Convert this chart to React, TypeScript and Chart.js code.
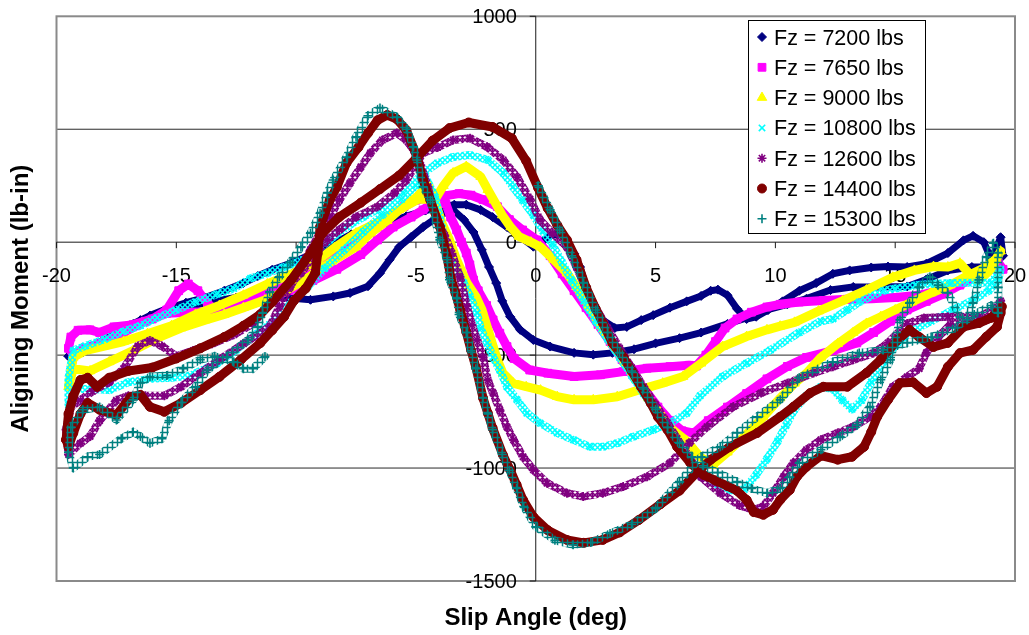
import React, { useEffect, useRef } from 'react';
import { Chart, registerables } from 'chart.js';
import { drawPoint } from 'chart.js/helpers';

Chart.register(...registerables);

type P = [number, number];

const xTicks = [-20, -15, -10, -5, 0, 5, 10, 15, 20];
const yTicks = [1000, 500, 0, -500, -1000, -1500];
const xTitle = 'Slip Angle (deg)';
const yTitle = 'Aligning Moment (lb-in)';
const seriesNames = ['Fz = 7200 lbs', 'Fz = 7650 lbs', 'Fz = 9000 lbs', 'Fz = 10800 lbs', 'Fz = 12600 lbs', 'Fz = 14400 lbs', 'Fz = 15300 lbs'];

const fz7200: P[] = [
  [-19.5, -505], [-18.9, -488], [-18.2, -460], [-17.5, -418], [-16.8, -362], [-16.1, -325], [-15.4, -295], [-14.6, -268], [-13.8, -245], [-13.0, -215], [-12.2, -181], [-11.6, -150], [-11.0, -122], [-10.2, -92], [-9.4, -55], [-8.5, -10], [-7.7, 35], [-7.0, 58], [-6.2, 85], [-5.4, 115], [-4.6, 140], [-4.0, 155], [-3.4, 166], [-2.9, 166], [-2.3, 143], [-1.8, 111], [-1.2, 67], [-0.6, 20], [-0.1, -20], [0.3, 5], [0.6, 28], [1.0, 38], [1.3, 10], [1.6, -50], [1.85, -110], [2.1, -198], [2.4, -285], [2.8, -345], [3.3, -380], [3.8, -375], [4.4, -345], [4.9, -323], [5.6, -290], [6.3, -262], [6.9, -238], [7.3, -215], [7.6, -210], [8.0, -235], [8.4, -295], [8.8, -340], [9.2, -330], [9.7, -300], [10.3, -262], [11.0, -215], [11.7, -181], [12.4, -140], [13.1, -125], [14.0, -112], [14.7, -108], [15.5, -110], [16.3, -95], [17.2, -48], [17.85, 8], [18.25, 28], [18.7, 0], [19.0, -75], [19.25, -20], [19.4, 22], [19.5, -60],
  [19.0, -110], [18.2, -110], [17.2, -125], [16.3, -165], [15.5, -196], [14.4, -198], [13.25, -198], [12.3, -212], [11.3, -250], [10.5, -275], [9.65, -300], [8.8, -335], [8.0, -362], [6.9, -400], [6.0, -425], [5.0, -448], [4.1, -474], [3.2, -490], [2.4, -498], [1.6, -490], [0.6, -462], [-0.1, -433], [-0.65, -388], [-1.07, -330], [-1.4, -260], [-1.65, -181], [-1.95, -110], [-2.25, -34], [-2.6, 45], [-3.0, 100], [-3.5, 148],
  [-4.1, 111], [-4.7, 67], [-5.2, 23], [-5.7, -21], [-6.1, -78], [-6.5, -137], [-7.0, -195], [-7.75, -225], [-8.45, -240], [-9.4, -255], [-10.5, -245], [-11.5, -235], [-12.5, -245], [-13.5, -262], [-14.5, -285], [-15.5, -310], [-16.5, -345], [-17.5, -400], [-18.5, -460], [-19.5, -505],
];

const fz7650: P[] = [
  [-3.8, 205], [-3.2, 215], [-2.7, 208], [-2.2, 188], [-1.6, 157], [-1.1, 100], [-0.55, 54], [0.05, 10],
  [0.6, -60], [1.1, -140], [1.6, -215], [2.1, -290], [2.6, -365], [3.1, -440], [3.6, -520], [4.1, -590], [4.6, -660], [5.1, -730], [5.6, -790], [6.1, -835], [6.6, -845], [7.2, -790], [8.0, -730], [8.8, -670], [9.65, -605], [10.5, -550], [11.3, -510], [12.4, -480], [13.4, -446], [14.1, -400], [14.8, -350], [15.5, -300], [16.3, -262], [17.0, -230], [17.7, -190], [18.3, -150], [18.8, -110], [19.3, -90], [19.5, -120],
  [18.8, -120], [18.2, -150], [17.5, -190], [16.8, -215], [16.0, -235], [15.0, -245], [14.0, -250], [13.0, -253], [12.0, -258], [11.0, -265], [10.2, -275], [9.65, -287], [9.0, -310], [8.4, -340], [7.9, -380], [7.5, -440], [7.1, -500], [6.7, -548],
  [6.4, -545], [5.6, -551], [4.65, -558], [3.65, -573], [2.7, -587], [1.6, -595], [0.5, -580], [-0.25, -566], [-0.9, -515], [-1.2, -462], [-1.5, -403], [-1.78, -344], [-2.05, -280], [-2.4, -215], [-2.6, -167], [-2.75, -100], [-2.9, -48], [-3.1, 0], [-3.3, 54], [-3.55, 111], [-3.75, 170],
  [-4.3, 175], [-4.7, 143], [-5.2, 111], [-5.95, 67], [-6.6, 10], [-7.3, -55], [-8.3, -120], [-9.3, -170], [-10.3, -215], [-11.3, -255], [-12.3, -290], [-13.2, -318], [-13.7, -270], [-14.1, -215], [-14.5, -185], [-14.9, -215], [-15.4, -300], [-16.0, -340], [-16.8, -365], [-17.6, -375], [-18.2, -400], [-18.6, -388], [-19.1, -390], [-19.4, -420], [-19.5, -470],
  [-19.3, -495], [-18.8, -470], [-18.0, -440], [-17.2, -400], [-16.3, -350], [-15.4, -315], [-14.5, -310], [-13.5, -308], [-12.8, -290], [-12.0, -250], [-11.0, -200], [-10.0, -150], [-9.0, -95], [-8.0, -35], [-7.2, 15], [-6.6, 67], [-6.1, 111], [-5.5, 157], [-5.0, 186], [-4.4, 200], [-3.8, 205],
];

const fz9000: P[] = [
  [-4.2, 190], [-3.85, 250], [-3.45, 306], [-2.9, 335], [-2.3, 290], [-2.0, 232], [-1.75, 186], [-1.4, 120], [-1.05, 67], [-0.7, 25], [-0.2, 0], [0.2, -21],
  [0.75, -78], [1.3, -137], [1.7, -198], [2.2, -280], [2.7, -370], [3.2, -450], [3.7, -530], [4.2, -610], [4.7, -690], [5.2, -760], [5.7, -830], [6.3, -880], [6.85, -950], [7.4, -985], [8.0, -930], [8.8, -850], [9.5, -773], [10.2, -690], [10.8, -625], [11.3, -580], [11.9, -510], [12.6, -450], [13.25, -400], [13.8, -360], [14.4, -330], [15.0, -300], [15.7, -265], [16.5, -225], [17.3, -190], [18.0, -150], [18.7, -115], [19.2, -75], [19.4, -40],
  [19.0, -120], [18.5, -170], [18.1, -140], [17.7, -93], [17.2, -110], [16.6, -108], [15.8, -125], [14.9, -155], [13.8, -212], [12.8, -260], [11.8, -305], [10.8, -355], [10.2, -372], [9.65, -388], [8.8, -418], [7.8, -462], [6.9, -536], [6.15, -595], [5.3, -624], [4.35, -653], [3.4, -684], [2.4, -698], [1.6, -698], [0.9, -684], [0.2, -655], [-0.4, -640], [-0.95, -624], [-1.37, -580], [-1.6, -521], [-1.82, -447], [-2.03, -374], [-2.24, -300], [-2.5, -240], [-2.87, -181], [-3.3, -78], [-3.6, 10], [-3.9, 80], [-4.2, 180], [-4.5, 255],
  [-4.96, 200], [-5.7, 143], [-6.2, 95], [-6.9, 40], [-7.5, -21], [-8.5, -85], [-9.4, -150], [-10.5, -220], [-11.3, -256], [-12.2, -290], [-13.0, -320], [-13.8, -345], [-14.8, -380], [-15.8, -425], [-16.8, -480], [-17.8, -530], [-18.6, -570], [-19.3, -560], [-19.5, -640],
  [-19.3, -510], [-18.8, -480], [-18.0, -460], [-17.2, -440], [-16.2, -405], [-15.2, -370], [-14.2, -320], [-13.2, -280], [-12.2, -235], [-11.2, -185], [-10.1, -137], [-9.1, -80], [-8.4, -25], [-7.5, 40], [-6.4, 98], [-5.6, 150], [-4.9, 190], [-4.2, 190],
];

const fz10800: P[] = [
  [-4.7, 306], [-4.1, 350], [-3.45, 377], [-2.75, 386], [-2.0, 364], [-1.35, 306], [-0.95, 245], [-0.55, 186], [-0.1, 120], [0.3, 50], [0.7, -10], [1.1, -90],
  [1.5, -170], [2.0, -260], [2.5, -350], [3.0, -430], [3.5, -510], [4.0, -590], [4.5, -670], [5.0, -750], [5.5, -830], [6.0, -900], [6.5, -970], [7.0, -1030], [7.6, -1075], [8.2, -1100], [8.7, -1095], [9.2, -1030], [9.65, -960], [10.1, -880], [10.45, -810], [10.8, -740], [11.3, -680], [11.9, -640], [12.4, -650], [12.8, -700], [13.2, -740], [13.6, -700], [14.0, -620], [14.5, -530], [15.0, -460], [15.6, -400], [16.5, -350], [17.4, -300], [18.2, -260], [18.9, -215], [19.3, -170], [19.4, -120],
  [19.0, -180], [18.0, -180], [17.3, -181], [16.5, -185], [15.9, -190], [15.0, -205], [14.5, -215], [13.5, -265], [13.0, -300], [12.4, -340], [11.9, -350], [11.0, -400], [9.8, -477], [8.8, -536], [7.8, -595], [6.86, -680], [6.3, -757], [5.6, -801], [4.9, -831], [4.07, -861], [3.4, -890], [2.8, -906], [2.27, -906], [1.57, -875], [0.9, -845], [0.18, -801], [-0.37, -757], [-0.78, -698], [-1.2, -640], [-1.5, -566], [-1.78, -509], [-2.03, -447], [-2.3, -381], [-2.45, -314], [-2.74, -241], [-3.0, -181], [-3.45, -93], [-3.7, -48], [-3.9, 60], [-4.2, 200], [-4.6, 290],
  [-5.0, 250], [-5.6, 190], [-6.4, 120], [-7.2, 45], [-8.0, -35], [-8.8, -115], [-9.5, -195], [-10.2, -265], [-10.9, -344], [-11.6, -403], [-12.5, -477], [-13.3, -536], [-14.4, -590], [-15.2, -600], [-16.1, -605], [-17.0, -620], [-17.8, -655], [-18.5, -650], [-19.2, -650], [-19.5, -720],
  [-19.5, -600], [-19.3, -480], [-18.8, -460], [-18.0, -430], [-17.2, -395], [-16.5, -370], [-15.8, -335], [-15.0, -300], [-14.2, -265], [-13.3, -230], [-12.6, -205], [-11.9, -160], [-11.2, -137], [-10.5, -110], [-9.7, -78], [-9.1, -34], [-8.6, 10], [-7.9, 67], [-7.2, 111], [-6.4, 157], [-5.5, 217], [-4.7, 306],
];

const fz12600: P[] = [
  [-4.1, 420], [-3.45, 452], [-2.74, 460], [-2.03, 422], [-1.36, 364], [-0.78, 288], [-0.24, 190], [0.18, 98], [0.7, 40], [1.3, -21], [1.7, -110], [2.0, -181], [2.5, -290], [3.0, -380], [3.5, -470], [4.0, -555], [4.5, -640], [5.0, -720], [5.5, -800], [5.9, -870], [6.4, -950], [6.9, -1040], [7.7, -1111], [8.5, -1165], [9.1, -1185], [9.5, -1170], [9.9, -1111], [10.35, -1038], [10.75, -978], [11.3, -919], [11.9, -875], [12.6, -845], [13.25, -817], [13.95, -773], [14.4, -728], [14.9, -640], [15.5, -596], [16.0, -560], [16.3, -490], [16.8, -420], [17.3, -365], [18.0, -350], [18.8, -345], [19.2, -310], [19.4, -260],
  [19.1, -300], [18.5, -330], [17.2, -330], [16.2, -336], [15.5, -360], [14.7, -446], [14.1, -491], [13.25, -521], [12.4, -551], [11.6, -579], [10.5, -624], [9.4, -668], [8.25, -728], [7.15, -817], [6.4, -890], [5.6, -978], [4.65, -1038], [3.65, -1082], [2.8, -1111], [1.98, -1126], [1.3, -1111], [0.47, -1067], [-0.1, -1008], [-0.53, -950], [-0.93, -875], [-1.2, -818], [-1.5, -743], [-1.78, -668], [-2.0, -611], [-2.2, -509], [-2.45, -433], [-2.66, -367], [-2.87, -285], [-3.16, -154], [-3.5, -50], [-3.8, 30], [-4.05, 84], [-4.3, 157], [-4.5, 245], [-4.8, 340], [-5.1, 408], [-5.4, 452], [-5.8, 483], [-6.4, 452], [-6.9, 395], [-7.3, 333], [-7.75, 262], [-8.2, 186], [-8.6, 111], [-9.0, 40], [-9.4, -34], [-9.8, -110], [-10.25, -199], [-10.7, -285], [-11.1, -374], [-12.2, -450], [-13.2, -520], [-14.0, -580], [-14.8, -640], [-15.5, -680], [-16.3, -680], [-17.0, -680], [-17.5, -700], [-18.2, -790], [-18.6, -860], [-19.0, -890], [-19.5, -940],
  [-19.6, -830], [-19.4, -730], [-19.0, -700], [-18.5, -660], [-17.8, -620], [-17.2, -560], [-16.6, -460], [-16.1, -435], [-15.6, -460], [-15.0, -505], [-14.3, -480], [-13.5, -450], [-12.6, -410], [-11.8, -360], [-11.2, -285], [-10.5, -211], [-9.8, -137], [-9.3, -65], [-8.7, 10], [-8.2, 54], [-7.5, 111], [-6.6, 157], [-5.9, 217], [-5.4, 275], [-4.7, 395], [-4.1, 420],
];

const fz14400: P[] = [
  [-19.6, -875], [-19.5, -760], [-19.3, -680], [-19.0, -610], [-18.7, -600], [-18.3, -640], [-17.8, -600], [-17.0, -570], [-16.0, -555], [-15.0, -515], [-14.0, -470], [-13.0, -420], [-12.2, -370], [-11.5, -320], [-11.0, -265], [-10.2, -167], [-9.4, -48], [-8.9, 40], [-8.2, 111], [-7.3, 175], [-6.5, 235], [-5.7, 295], [-5.0, 370], [-4.3, 450], [-3.6, 505], [-2.8, 530], [-1.8, 510], [-1.0, 460], [-0.4, 360], [0.1, 240], [0.5, 150], [0.9, 75], [1.3, 10], [1.7, -78], [2.1, -200], [2.5, -295], [2.8, -358], [3.2, -447], [3.65, -509], [4.0, -570], [4.4, -642], [4.8, -713], [5.1, -774], [5.5, -831], [5.9, -906], [6.45, -977], [7.0, -1030], [7.5, -1055], [8.0, -1080], [8.4, -1100], [8.8, -1141], [9.1, -1195], [9.5, -1207], [9.9, -1185], [10.2, -1141], [10.6, -1097], [10.9, -1038], [11.3, -994], [11.9, -945], [12.6, -963], [13.2, -950], [13.7, -906], [14.0, -840], [14.25, -773], [14.7, -698], [15.2, -624], [15.75, -620], [16.3, -668], [16.75, -640], [17.2, -552], [17.7, -491], [18.25, -477], [18.8, -419], [19.25, -375], [19.4, -314], [19.45, -285],
  [19.0, -335], [18.5, -358], [17.85, -375], [17.2, -446], [16.6, -464], [16.0, -420], [15.6, -388], [15.1, -433], [14.4, -520], [13.8, -579], [13.0, -640], [12.0, -640], [11.45, -668], [10.75, -729], [10.2, -773], [9.24, -845], [8.1, -906], [7.3, -963], [6.7, -1021], [6.0, -1100], [5.2, -1160], [4.3, -1230], [3.5, -1285], [2.8, -1318], [2.0, -1331], [1.3, -1318], [0.5, -1275], [-0.1, -1216], [-0.53, -1141], [-0.8, -1074], [-1.07, -1008], [-1.37, -942], [-1.8, -823], [-2.0, -757], [-2.2, -690], [-2.5, -553], [-2.7, -478], [-2.9, -398], [-3.15, -300], [-3.35, -225], [-3.55, -154], [-3.7, -65], [-4.0, 68], [-4.4, 186], [-4.7, 275], [-4.95, 377], [-5.4, 496], [-5.8, 545], [-6.2, 563], [-6.6, 540], [-7.0, 483], [-7.4, 420], [-7.9, 350], [-8.3, 244], [-8.6, 186], [-9.0, 68], [-9.1, -50], [-9.2, -136], [-9.6, -205], [-10.1, -260], [-10.5, -330], [-11.0, -390], [-11.5, -447], [-12.3, -520], [-13.2, -596], [-14.0, -655], [-14.8, -712], [-15.5, -751], [-16.1, -729], [-16.5, -676], [-16.9, -685], [-17.5, -765], [-18.2, -742], [-18.7, -712], [-19.0, -760], [-19.3, -845], [-19.5, -906], [-19.6, -875],
];

const fz15300: P[] = [
  [0.1, 250], [0.6, 143], [1.0, 54], [1.5, -60], [2.0, -180], [2.5, -300], [3.0, -400], [3.5, -490], [4.0, -570], [4.5, -650], [5.0, -740], [5.5, -820], [6.0, -890], [6.5, -950], [7.0, -990], [7.6, -1020], [8.4, -1060], [9.0, -1090], [9.65, -1111], [10.2, -1090], [10.6, -1040], [11.0, -978], [11.9, -919], [12.7, -861], [13.4, -810], [13.95, -728], [14.4, -609], [14.8, -521], [15.2, -344], [15.6, -270], [16.0, -199], [16.45, -154], [16.8, -190], [17.2, -225], [17.7, -330], [18.0, -343], [18.25, -270], [18.5, -167], [18.8, -65], [19.1, -5], [19.3, -48], [19.3, -200], [19.3, -314],
  [19.0, -280], [18.3, -320], [17.5, -380], [16.5, -420], [15.5, -446], [14.5, -477], [13.5, -491], [12.4, -530], [11.0, -600], [10.2, -698], [9.24, -773], [8.4, -845], [7.7, -906], [6.9, -950], [6.0, -1060], [5.0, -1180], [4.0, -1250], [3.1, -1290], [2.3, -1330], [1.56, -1340], [0.8, -1320], [0.0, -1260], [-0.5, -1170], [-0.8, -1090], [-1.1, -1010], [-1.4, -940], [-1.8, -830], [-2.0, -760], [-2.2, -690], [-2.5, -560], [-2.7, -480], [-2.9, -400], [-3.2, -320], [-3.3, -250], [-3.6, -166], [-3.7, -78], [-4.0, 10], [-4.4, 186], [-4.7, 245], [-4.96, 364], [-5.1, 422], [-5.4, 500], [-5.8, 554], [-6.5, 594], [-7.0, 560], [-7.5, 466], [-7.9, 377], [-8.45, 275], [-8.7, 218], [-9.0, 128], [-9.4, 40], [-9.8, -21], [-10.25, -90], [-10.7, -153], [-11.1, -220], [-11.4, -314], [-11.6, -374], [-12.0, -432], [-12.9, -507], [-13.7, -566], [-14.2, -640], [-14.8, -710], [-15.3, -790], [-15.6, -870], [-16.1, -890], [-16.5, -860], [-16.8, -840], [-17.3, -870], [-18.2, -940], [-18.7, -950], [-19.3, -1000], [-19.5, -930], [-19.4, -820], [-18.9, -742], [-18.2, -730], [-17.5, -787], [-16.8, -698], [-16.5, -623], [-16.1, -596], [-15.4, -590], [-14.7, -560], [-14.0, -520], [-13.4, -505], [-12.6, -530], [-12.2, -560], [-11.8, -560], [-11.3, -507],
];

const seriesData: P[][] = [fz7200, fz7650, fz9000, fz10800, fz12600, fz14400, fz15300];

// tex: 'x' | '+' | '*' => hatched band made of small marker-like strokes
const seriesStyle = [
  { color: '#000080', point: 'rectRot', r: 4.5, lw: 7, pbw: 1, lr: 4.5, tex: '' },
  { color: '#FF00FF', point: 'rect', r: 5.5, lw: 9, pbw: 1, lr: 5.5, tex: '' },
  { color: '#FFFF00', point: 'triangle', r: 5.5, lw: 9, pbw: 1, lr: 5.5, tex: '' },
  { color: '#00FFFF', point: 'crossRot', r: 4.5, lw: 8, pbw: 1.6, lr: 4.5, tex: 'x' },
  { color: '#800080', point: 'star', r: 4.5, lw: 8, pbw: 1.6, lr: 4.5, tex: '*' },
  { color: '#800000', point: 'circle', r: 4.5, lw: 9, pbw: 1, lr: 4.5, tex: '' },
  { color: '#008080', point: 'cross', r: 4.5, lw: 8, pbw: 1.6, lr: 4.5, tex: '+' },
];

const FONT = '"Liberation Sans", Arial, Helvetica, sans-serif';

function makeTexture(ctx: CanvasRenderingContext2D, color: string, kind: string): CanvasPattern | string {
  const size = 5;
  const c = document.createElement('canvas');
  c.width = size;
  c.height = size;
  const g = c.getContext('2d');
  if (!g) return color;
  g.strokeStyle = color;
  g.lineWidth = 1.5;
  g.beginPath();
  if (kind === 'x' || kind === '*') {
    g.moveTo(0, 0); g.lineTo(size, size);
    g.moveTo(size, 0); g.lineTo(0, size);
  }
  if (kind === '+' ) {
    g.moveTo(size / 2, 0); g.lineTo(size / 2, size);
    g.moveTo(0, size / 2); g.lineTo(size, size / 2);
  }
  if (kind === '*') {
    g.moveTo(size / 2, 0); g.lineTo(size / 2, size);
  }
  g.stroke();
  const pat = ctx.createPattern(c, 'repeat');
  return pat || color;
}

const framePlugin = {
  id: 'frame',
  beforeDatasetsDraw(chart: any) {
    const { ctx, chartArea: a } = chart;
    const xs = chart.scales.x;
    const ys = chart.scales.y;
    const line = (x1: number, y1: number, x2: number, y2: number) => {
      ctx.beginPath();
      ctx.moveTo(x1, y1);
      ctx.lineTo(x2, y2);
      ctx.stroke();
    };
    ctx.save();
    ctx.fillStyle = '#ffffff';
    ctx.fillRect(0, 0, chart.width, chart.height);
    ctx.strokeStyle = '#2a2a2a';
    ctx.lineWidth = 1;
    for (const v of yTicks) {
      if (v === 0 || v === yTicks[0] || v === yTicks[yTicks.length - 1]) continue;
      const py = ys.getPixelForValue(v);
      line(a.left, py, a.right, py);
    }
    ctx.strokeStyle = '#8a8a8a';
    ctx.lineWidth = 2;
    ctx.strokeRect(a.left, a.top, a.right - a.left, a.bottom - a.top);
    const x0 = xs.getPixelForValue(0);
    const y0 = ys.getPixelForValue(0);
    ctx.strokeStyle = '#1a1a1a';
    ctx.lineWidth = 1;
    line(a.left, y0, a.right, y0);
    line(x0, a.top, x0, a.bottom);
    for (const v of xTicks) {
      const px = xs.getPixelForValue(v);
      line(px, y0, px, y0 + 6);
    }
    for (const v of yTicks) {
      const py = ys.getPixelForValue(v);
      line(x0 - 6, py, x0, py);
    }
    ctx.fillStyle = '#000';
    ctx.font = `20px ${FONT}`;
    ctx.textBaseline = 'alphabetic';
    ctx.textAlign = 'center';
    for (const v of xTicks) ctx.fillText(String(v), xs.getPixelForValue(v), y0 + 40);
    ctx.textAlign = 'right';
    for (const v of yTicks) ctx.fillText(String(v), x0 - 19, ys.getPixelForValue(v) + 7);
    ctx.font = `bold 24px ${FONT}`;
    ctx.textAlign = 'center';
    ctx.fillText(xTitle, (a.left + a.right) / 2, 625);
    ctx.save();
    ctx.translate(28, (a.top + a.bottom) / 2);
    ctx.rotate(-Math.PI / 2);
    ctx.fillText(yTitle, 0, 0);
    ctx.restore();
    ctx.restore();
  },
  afterDatasetsDraw(chart: any) {
    const { ctx } = chart;
    const lx = 748, ly = 20, lw = 177, lh = 213;
    ctx.save();
    ctx.fillStyle = '#ffffff';
    ctx.fillRect(lx, ly, lw, lh);
    ctx.strokeStyle = '#000';
    ctx.lineWidth = 1;
    ctx.strokeRect(lx + 0.5, ly + 0.5, lw, lh);
    ctx.font = `21.5px ${FONT}`;
    ctx.textAlign = 'left';
    ctx.textBaseline = 'alphabetic';
    seriesNames.forEach((name, i) => {
      const cy = 37 + i * 30.3;
      const s = seriesStyle[i];
      ctx.fillStyle = s.color;
      ctx.strokeStyle = s.color;
      ctx.lineWidth = s.pbw;
      drawPoint(ctx, { pointStyle: s.point as any, rotation: 0, radius: s.lr, borderWidth: s.pbw }, 762, cy);
      ctx.fillStyle = '#000';
      ctx.fillText(name, 774, cy + 7.5);
    });
    ctx.restore();
  },
};

export default function App() {
  const ref = useRef<HTMLCanvasElement>(null);
  useEffect(() => {
    const canvas = ref.current as HTMLCanvasElement;
    const ctx2d = canvas.getContext('2d') as CanvasRenderingContext2D;
    const datasets = seriesData.map((d, i) => {
      const s = seriesStyle[i];
      const stroke = s.tex ? makeTexture(ctx2d, s.color, s.tex) : s.color;
      return {
        label: seriesNames[i],
        data: d.map((p) => ({ x: p[0], y: p[1] })),
        showLine: true,
        borderColor: stroke,
        backgroundColor: s.color,
        borderWidth: s.lw,
        borderJoinStyle: 'round' as const,
        borderCapStyle: 'round' as const,
        pointStyle: s.point as any,
        pointRadius: s.r,
        pointHoverRadius: s.r,
        pointBackgroundColor: s.color,
        pointBorderColor: s.color,
        pointBorderWidth: s.pbw,
        tension: 0,
        spanGaps: false,
        order: seriesData.length - 1 - i,
      };
    });
    const chart = new Chart(canvas, {
      type: 'scatter',
      data: { datasets },
      options: {
        responsive: false,
        animation: false,
        devicePixelRatio: 1,
        layout: { padding: { left: 56.5, top: 16.3, right: 14, bottom: 54 } },
        plugins: { legend: { display: false }, tooltip: { enabled: false }, title: { display: false } },
        scales: {
          x: { type: 'linear', min: -20, max: 20, display: false },
          y: { type: 'linear', min: -1500, max: 1000, display: false },
        },
      },
      plugins: [framePlugin],
    } as any);
    return () => chart.destroy();
  }, []);
  return (
    <div style={{ position: 'absolute', left: 0, top: 0, width: 1029, height: 635, background: '#fff' }}>
      <canvas ref={ref} width={1029} height={635} style={{ display: 'block', width: 1029, height: 635 }} />
    </div>
  );
}
